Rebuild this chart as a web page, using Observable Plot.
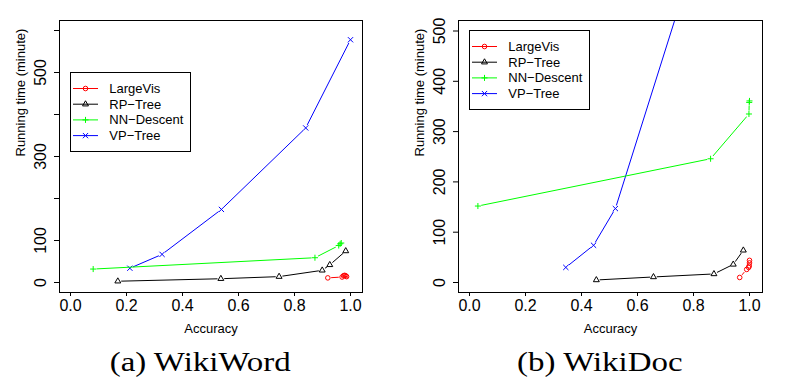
<!DOCTYPE html>
<html>
<head>
<meta charset="utf-8">
<script src="https://cdn.jsdelivr.net/npm/d3@7"></script>
<script src="https://cdn.jsdelivr.net/npm/@observablehq/plot@0.6"></script>
<style>
  html, body { margin: 0; padding: 0; background: #fff; }
  #wrap { position: relative; width: 797px; height: 386px; overflow: hidden; }
  .panel { position: absolute; top: 0; }
  .cap { position: absolute; top: 347px; text-align: center; color: #000; white-space: nowrap; }
  .cap span { display: inline-block; font-family: "Liberation Serif", "DejaVu Serif", serif; font-size: 27px; line-height: 30px; transform: scaleX(1.22); transform-origin: center; }
</style>
</head>
<body>
<div id="wrap">
  <div id="p1" class="panel" style="left:0px"></div>
  <div id="p2" class="panel" style="left:399px"></div>
  <div class="cap" style="left:0px;width:400px"><span>(a) WikiWord</span></div>
  <div class="cap" style="left:401px;width:398px"><span>(b) WikiDoc</span></div>
</div>
<script>
// ---- series definitions ----
const seriesNames = ["LargeVis", "RP\u2212Tree", "NN\u2212Descent", "VP\u2212Tree"];
const seriesColors = ["#ff0000", "#000000", "#00ff00", "#0000ff"];
const seriesSymbols = ["circle", "triangle", "plus", "times"];
const seriesSymbolR = [2.3, 2.2, 2.1, 2.5];

// ---- (a) WikiWord ----
const wwLargeVisAcc = [0.919, 0.970, 0.975, 0.979, 0.983, 0.986];
const wwLargeVisTime = [11, 13, 16, 17, 16, 14];
const wwRPTreeAcc = [0.169, 0.537, 0.745, 0.899, 0.926, 0.983];
const wwRPTreeTime = [3, 9, 14, 29, 42, 75];
const wwNNDescentAcc = [0.081, 0.873, 0.958, 0.963, 0.967];
const wwNNDescentTime = [32, 59, 88, 92, 94];
const wwVPTreeAcc = [0.212, 0.327, 0.539, 0.840, 1.0];
const wwVPTreeTime = [34, 67, 174, 368, 578];
const wwXTicks = [0, 0.2, 0.4, 0.6, 0.8, 1.0];
const wwYTicks = [0, 100, 200, 300, 400, 500, 600];
const wwYLabels = [0, 100, 300, 500];

// ---- (b) WikiDoc ----
const wdLargeVisAcc = [0.965, 0.990, 0.997, 0.999, 1.0, 1.0];
const wdLargeVisTime = [10, 26, 30, 33, 39, 44];
const wdRPTreeAcc = [0.453, 0.657, 0.873, 0.942, 0.978];
const wdRPTreeTime = [5, 11, 17, 36, 64];
const wdNNDescentAcc = [0.030, 0.861, 0.998, 0.999, 1.0];
const wdNNDescentTime = [152, 246, 335, 358, 361];
const wdVPTreeAcc = [0.344, 0.443, 0.521, 0.80];
const wdVPTreeTime = [30, 74, 147, 640];
const wdXTicks = [0, 0.2, 0.4, 0.6, 0.8, 1.0];
const wdYTicks = [0, 100, 200, 300, 400, 500];
const wdYLabels = [0, 100, 200, 300, 400, 500];

const FONT = "'Liberation Sans', Arial, Helvetica, sans-serif";

function table(acc, time) { return acc.map((a, i) => ({acc: a, time: time[i]})); }

function makeChart(cfg) {
  const tables = cfg.series; // array of tables, in seriesNames order
  const order = [3, 2, 1, 0];
  const marks = [];
  for (const i of order) {
    const data = tables[i];
    marks.push(Plot.line(data, {x: "acc", y: "time", stroke: seriesColors[i], strokeWidth: 1, clip: true}));
    marks.push(Plot.dot(data, {x: "acc", y: "time", r: 3.4, fill: "white", stroke: "none", clip: true}));
    marks.push(Plot.dot(data, {x: "acc", y: "time", symbol: seriesSymbols[i], r: seriesSymbolR[i], stroke: seriesColors[i], fill: "none", strokeWidth: 1, clip: true}));
  }
  marks.push(Plot.frame({stroke: "black", strokeWidth: 1}));
  marks.push(Plot.axisX({ticks: cfg.xTicks, tickSize: 4, tickPadding: 3, tickFormat: d3.format(".1f"), fontSize: 16, label: null}));
  marks.push(Plot.axisY({ticks: cfg.yTicks, tickSize: 5, tickFormat: () => "", label: null}));
  marks.push(Plot.text(cfg.yLabels, {y: d => d, text: d => String(d), frameAnchor: "left", dx: cfg.yLabelDx, rotate: -90, textAnchor: "middle", lineAnchor: "middle", fontSize: 16, fill: "black"}));
  marks.push(Plot.text(["Accuracy"], {frameAnchor: "bottom", dy: 36, lineAnchor: "middle", fontSize: 13, fill: "black"}));
  marks.push(Plot.text(["Running time (minute)"], {frameAnchor: "left", dx: -38.5, rotate: -90, lineAnchor: "middle", fontSize: 13, fill: "black"}));
  const svg = Plot.plot({
    width: cfg.width, height: 340,
    marginLeft: 59, marginRight: cfg.marginRight, marginTop: 20, marginBottom: 48,
    x: {domain: cfg.xDomain, axis: null},
    y: {domain: cfg.yDomain, axis: null},
    style: {fontFamily: FONT, fontSize: "13px", color: "black", background: "transparent", overflow: "visible"},
    marks
  });
  // legend
  const g = d3.select(svg).append("g").attr("font-family", FONT).attr("font-size", 13).attr("text-anchor", "start");
  const lx = 70, ly = cfg.legendTop, lw = 120, lh = 79;
  g.append("rect").attr("x", lx + 0.5).attr("y", ly + 0.5).attr("width", lw).attr("height", lh)
    .attr("fill", "white").attr("stroke", "black").attr("stroke-width", 1);
  const symMap = {circle: d3.symbolCircle, triangle: d3.symbolTriangle, plus: d3.symbolPlus, times: d3.symbolTimes};
  seriesNames.forEach((name, i) => {
    const cy = ly + 16.5 + 15.7 * i;
    g.append("line").attr("x1", lx + 3).attr("x2", lx + 28).attr("y1", cy).attr("y2", cy)
      .attr("stroke", seriesColors[i]).attr("stroke-width", 1);
    const r = seriesSymbolR[i];
    g.append("path").attr("d", d3.symbol(symMap[seriesSymbols[i]], Math.PI * r * r)())
      .attr("transform", `translate(${lx + 15.5},${cy})`)
      .attr("fill", "none").attr("stroke", seriesColors[i]).attr("stroke-width", 1);
    g.append("text").attr("x", lx + 39.3).attr("y", cy).attr("dy", "0.35em")
      .attr("text-anchor", "start").attr("fill", "black").text(name);
  });
  return svg;
}

const chart1 = makeChart({
  series: [table(wwLargeVisAcc, wwLargeVisTime), table(wwRPTreeAcc, wwRPTreeTime), table(wwNNDescentAcc, wwNNDescentTime), table(wwVPTreeAcc, wwVPTreeTime)],
  xTicks: wwXTicks, yTicks: wwYTicks, yLabels: wwYLabels,
  width: 399, marginRight: 37,
  xDomain: [(59 - 70) / 280, (362 - 70) / 280],
  yDomain: [(282 - 292) / 0.42, (282 - 20) / 0.42],
  yLabelDx: -18.5, legendTop: 72
});
document.getElementById("p1").appendChild(chart1);

const chart2 = makeChart({
  series: [table(wdLargeVisAcc, wdLargeVisTime), table(wdRPTreeAcc, wdRPTreeTime), table(wdNNDescentAcc, wdNNDescentTime), table(wdVPTreeAcc, wdVPTreeTime)],
  xTicks: wdXTicks, yTicks: wdYTicks, yLabels: wdYLabels,
  width: 398, marginRight: 35,
  xDomain: [(458 - 469) / 280, (762 - 469) / 280],
  yDomain: [(282 - 292) / 0.503, (282 - 20) / 0.503],
  yLabelDx: -18.5, legendTop: 30
});
document.getElementById("p2").appendChild(chart2);
</script>
</body>
</html>
